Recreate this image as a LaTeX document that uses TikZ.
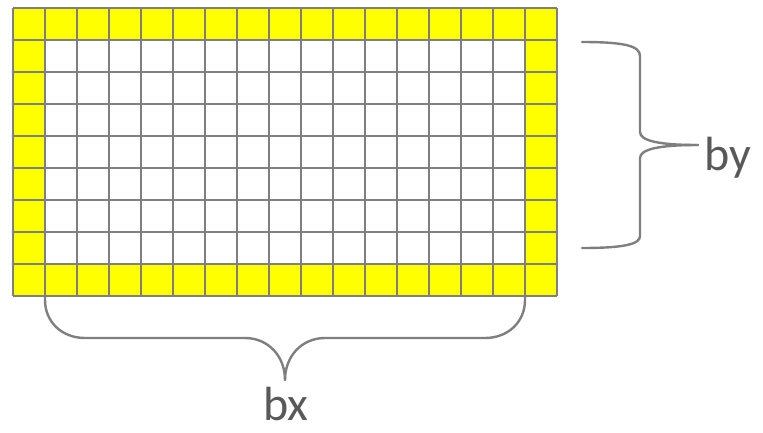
\documentclass[tikz,border=0pt]{standalone}
\usepackage{fontspec}
\setmainfont{Carlito}
\usetikzlibrary{positioning}
\definecolor{linegray}{HTML}{7F7F7F}
\definecolor{textgray}{HTML}{595959}
\definecolor{cellyellow}{HTML}{FFFF00}

\begin{document}
\begin{tikzpicture}[x=1pt,y=-1pt,
  cell/.style={draw=linegray,line width=2.3pt},
  bracket/.style={draw=linegray,line width=2.4pt,line cap=round},
  label/.style={text=textgray,font=\fontsize{48}{54}\selectfont,inner sep=0pt}]
\useasboundingbox (0,0) rectangle (763,432);
% yellow border cells, white inside
\fill[cellyellow] (13,8) rectangle (557,296);
\fill[white] (45,40) rectangle (525,264);
\foreach \i in {0,...,17}
  \draw[cell] (13+32*\i,8) -- (13+32*\i,296);
\foreach \j in {0,...,9}
  \draw[cell] (13,8+32*\j) -- (557,8+32*\j);
% brace tips
\coordinate (bytip) at (698,145);
\coordinate (bxtip) at (285,380);
% labels
\node[label,anchor=base west] (by) at (704,170) {by};
\node[label,anchor=base west] (bx) at (263,420) {bx};
% right brace
\draw[bracket] (582,42) .. controls (625,42) and (640,46) .. (640,56) -- (640,132)
  .. controls (640,141) and (660,145) .. (bytip);
\draw[bracket] (bytip) .. controls (660,145) and (640,149) .. (640,158) -- (640,236)
  .. controls (640,244) and (625,248) .. (582,248);
% bottom brace
\draw[bracket] (45,297) -- (45,300) .. controls (45,322) and (62,338) .. (85,338) -- (245,338)
  .. controls (268,338) and (285,356) .. (bxtip);
\draw[bracket] (bxtip) .. controls (285,356) and (302,338) .. (325,338) -- (485,338)
  .. controls (508,338) and (525,322) .. (525,300) -- (525,297);
\end{tikzpicture}
\end{document}
